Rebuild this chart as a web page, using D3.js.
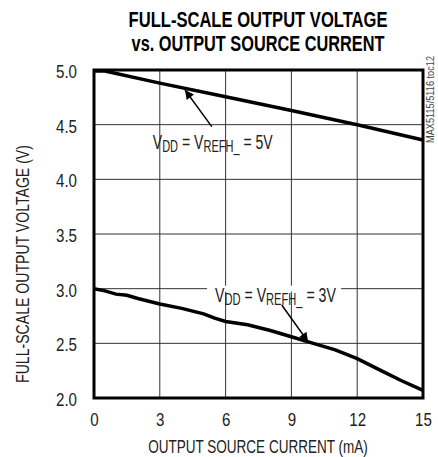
<!DOCTYPE html>
<html>
<head>
<meta charset="utf-8">
<script src="https://cdn.jsdelivr.net/npm/d3@7"></script>
<style>
  body { margin: 0; background: #fff; }
  svg text { font-family: "Liberation Sans", Arial, sans-serif; fill: #222; }
</style>
</head>
<body>
<div id="plot"></div>
<script>
// Chart values
const titleLines = ["FULL-SCALE OUTPUT VOLTAGE", "vs. OUTPUT SOURCE CURRENT"];
const xTicks = [0, 3, 6, 9, 12, 15];
const yTicks = [2.0, 2.5, 3.0, 3.5, 4.0, 4.5, 5.0];

// VDD = VREFH_ = 5V
const current5 = [0, 0.5, 3, 6, 9, 12, 15];
const voltage5 = [4.99, 4.99, 4.88, 4.755, 4.63, 4.50, 4.36];

// VDD = VREFH_ = 3V
const current3 = [0, 0.5, 1.0, 1.5, 2, 3, 4, 5, 5.5, 6, 7, 8, 9, 10, 11, 12, 13, 14, 15];
const voltage3 = [3.00, 2.98, 2.95, 2.94, 2.91, 2.86, 2.82, 2.77, 2.73, 2.70, 2.67, 2.62, 2.56, 2.50, 2.44, 2.36, 2.26, 2.16, 2.07];

const margin = {top: 70, right: 15, bottom: 59, left: 94};
const width = 438 - margin.left - margin.right;
const height = 457 - margin.top - margin.bottom;
const squeeze = 0.84;  // fake a condensed face, none is installed

// squash a text element horizontally so it is w wide, placed at (tx, ty)
function fit(sel, tx, ty, w, angle = 0) {
    const sx = w / sel.node().getComputedTextLength();
    sel.attr("transform", `translate(${tx},${ty}) rotate(${angle}) scale(${sx},1)`);
}

const svg = d3.select("#plot")
    .append("svg")
    .attr("width", 438)
    .attr("height", 457);

const g = svg.append("g")
    .attr("transform", `translate(${margin.left},${margin.top})`);

const x = d3.scaleLinear().domain([0, 15]).range([0, width]);
const y = d3.scaleLinear().domain([2, 5]).range([height, 0]);

// Title
const titleWidths = [259, 253];
svg.selectAll(".title")
    .data(titleLines)
    .enter()
    .append("text")
    .attr("text-anchor", "middle")
    .style("font-size", "22px")
    .style("font-weight", "bold")
    .style("fill", "#000")
    .text(d => d)
    .each(function(d, i) { fit(d3.select(this), 258, 27 + i * 24.3, titleWidths[i]); });

// Grid
g.append("g")
    .selectAll("line")
    .data(xTicks.slice(1, -1))
    .enter()
    .append("line")
    .attr("x1", d => x(d)).attr("x2", d => x(d))
    .attr("y1", 0).attr("y2", height)
    .style("stroke", "#333")
    .style("stroke-width", 1);

g.append("g")
    .selectAll("line")
    .data(yTicks.slice(1, -1))
    .enter()
    .append("line")
    .attr("x1", 0).attr("x2", width)
    .attr("y1", d => y(d)).attr("y2", d => y(d))
    .style("stroke", "#333")
    .style("stroke-width", 1);

// Axes (labels only, the frame is drawn separately)
const xAxis = g.append("g")
    .attr("transform", `translate(0,${height})`)
    .call(d3.axisBottom(x).tickValues(xTicks).tickSize(0).tickPadding(15).tickFormat(d3.format("d")));
const yAxis = g.append("g")
    .call(d3.axisLeft(y).tickValues(yTicks).tickSize(0).tickFormat(d3.format(".1f")));
[xAxis, yAxis].forEach(a => {
    a.select(".domain").remove();
    a.selectAll("text")
        .style("font-size", "18px")
        .style("fill", "#222")
        .style("font-family", "\"Liberation Sans\", Arial, sans-serif")
        .attr("transform", `scale(${squeeze},1)`);
});
yAxis.selectAll("text").attr("x", -17 / squeeze).attr("dy", "0.42em");

// Curves
const line = d3.line().x(d => x(d[0])).y(d => y(d[1]));
g.append("path")
    .datum(d3.zip(current5, voltage5))
    .attr("d", line)
    .style("fill", "none").style("stroke", "#000").style("stroke-width", 3.5);
g.append("path")
    .datum(d3.zip(current3, voltage3))
    .attr("d", line)
    .style("fill", "none").style("stroke", "#000").style("stroke-width", 3.5);

// Frame
g.append("rect")
    .attr("width", width).attr("height", height)
    .style("fill", "none").style("stroke", "#000").style("stroke-width", 3);

// Arrow marker
svg.append("defs").append("marker")
    .attr("id", "arrow")
    .attr("viewBox", "0 0 10 10")
    .attr("refX", 10).attr("refY", 5)
    .attr("markerWidth", 12).attr("markerHeight", 9)
    .attr("markerUnits", "userSpaceOnUse")
    .attr("orient", "auto")
    .append("path")
    .attr("d", "M0,0 L10,5 L0,10 z")
    .style("fill", "#000");

// curve label: V_DD = V_REFH_ = ..., squeezed to width w
function label(gx, gy, main, w) {
    const lg = g.append("g");
    const t = lg.append("text").style("font-size", "21px");
    t.append("tspan").text("V");
    t.append("tspan").attr("dy", 3).style("font-size", "16.5px").text("DD");
    t.append("tspan").attr("dy", -3).text(" = V");
    t.append("tspan").attr("dy", 3).style("font-size", "16.5px").text("REFH_");
    t.append("tspan").attr("dy", -3).text(" = " + main);
    const sx = w / t.node().getComputedTextLength();
    lg.attr("transform", `translate(${x(gx)},${y(gy)}) scale(${sx},1)`);
    return lg;
}

// 5V label and arrow
label(2.68, 4.277, "5V", 120);
g.append("line")
    .attr("x1", x(5.37)).attr("y1", y(4.482))
    .attr("x2", x(4.15)).attr("y2", y(4.817))
    .style("stroke", "#000").style("stroke-width", 1.5)
    .attr("marker-end", "url(#arrow)");

// 3V label with white backing over the grid line
const label3 = label(5.52, 2.881, "3V", 121);
g.insert("rect", () => label3.node())
    .attr("x", x(5.52) - 8).attr("y", y(3.0) - 3)
    .attr("width", 121 + 13).attr("height", 6)
    .style("fill", "#fff");
g.append("line")
    .attr("x1", x(8.56)).attr("y1", y(2.851))
    .attr("x2", x(9.76)).attr("y2", y(2.515))
    .style("stroke", "#000").style("stroke-width", 1.5)
    .attr("marker-end", "url(#arrow)");

// Axis titles
svg.append("text")
    .attr("text-anchor", "middle")
    .style("font-size", "17.5px")
    .text("OUTPUT SOURCE CURRENT (mA)")
    .call(fit, 258, 453, 220);
svg.append("text")
    .attr("text-anchor", "middle")
    .style("font-size", "18px")
    .text("FULL-SCALE OUTPUT VOLTAGE (V)")
    .call(fit, 28.5, 264, 238, -90);

// Side tag
svg.append("text")
    .attr("text-anchor", "end")
    .style("font-size", "10px")
    .style("fill", "#444")
    .text("MAX5115/5116 toc12")
    .call(fit, 434, 56, 87, -90);
</script>
</body>
</html>
